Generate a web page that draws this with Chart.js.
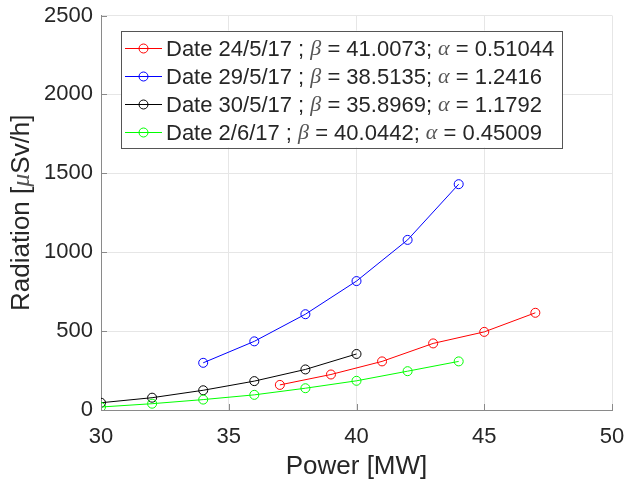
<!DOCTYPE html>
<html>
<head>
<meta charset="utf-8">
<script src="https://cdn.jsdelivr.net/npm/chart.js@4.4.0/dist/chart.umd.min.js"></script>
<style>
  html, body { margin: 0; padding: 0; background: #fff; }
</style>
</head>
<body>
<canvas id="radChart" width="628" height="482"></canvas>
<script>
// values
const powerRed = [37, 39, 41, 43, 45, 47];
const radRed = [159, 225, 308, 422, 495, 616];
const powerBlue = [34, 36, 38, 40, 42, 44];
const radBlue = [299, 435, 607, 817, 1078, 1431];
const powerBlack = [30, 32, 34, 36, 38, 40];
const radBlack = [46, 78, 125, 183, 257, 355];
const powerGreen = [30, 32, 34, 36, 38, 40, 42, 44];
const radGreen = [19, 40, 66, 96, 138, 185, 246, 308];

const seriesLabels = [
  'Date 24/5/17 ; β = 41.0073; α = 0.51044',
  'Date 29/5/17 ; β = 38.5135; α = 1.2416',
  'Date 30/5/17 ; β = 35.8969; α = 1.1792',
  'Date 2/6/17 ; β = 40.0442; α = 0.45009'
];
const seriesColors = ['#ff0000', '#0000ff', '#000000', '#00ff00'];
const xTicks = [30, 35, 40, 45, 50];
const yTicks = [0, 500, 1000, 1500, 2000, 2500];

const textColor = '#262626';
const axisColor = '#8a8a8a';
const gridColor = '#e6e6e6';
const fontFamily = '"Liberation Sans", Arial, sans-serif';
const greekFont = '"Liberation Serif", serif';

function toPoints(xs, ys) {
  return xs.map((x, i) => ({ x: x, y: ys[i] }));
}

function makeSet(i, xs, ys) {
  return {
    label: seriesLabels[i],
    data: toPoints(xs, ys),
    borderColor: seriesColors[i],
    backgroundColor: 'rgba(0,0,0,0)',
    borderWidth: 1,
    pointRadius: 4.5,
    pointBorderWidth: 1,
    pointBackgroundColor: 'rgba(0,0,0,0)',
    pointBorderColor: seriesColors[i],
    tension: 0,
    order: 4 - i
  };
}

// text with the greek letters in italic serif
function richParts(text) {
  return text.split(/([βαμ])/).filter(p => p);
}
function setPartFont(ctx, p, size) {
  if (p === 'β' || p === 'α' || p === 'μ') {
    ctx.font = 'italic ' + size + 'px ' + greekFont;
    ctx.fillStyle = '#555';
  } else {
    ctx.font = size + 'px ' + fontFamily;
    ctx.fillStyle = textColor;
  }
}
function measureRich(ctx, text, size) {
  let w = 0;
  richParts(text).forEach(p => {
    setPartFont(ctx, p, size);
    w += ctx.measureText(p).width;
  });
  return w;
}
function drawRich(ctx, text, x, y, size) {
  let cx = x;
  richParts(text).forEach(p => {
    setPartFont(ctx, p, size);
    ctx.fillText(p, cx, y);
    cx += ctx.measureText(p).width;
  });
}

const innerTicks = {
  id: 'innerTicks',
  afterDraw(chart) {
    const ctx = chart.ctx;
    const area = chart.chartArea;
    const xs = chart.scales.x, ys = chart.scales.y;
    ctx.save();
    ctx.strokeStyle = axisColor;
    ctx.lineWidth = 1;
    ctx.beginPath();
    xTicks.forEach(v => {
      const px = Math.round(xs.getPixelForValue(v)) + 0.5;
      ctx.moveTo(px, area.bottom);
      ctx.lineTo(px, area.bottom - 6);
    });
    yTicks.forEach(v => {
      const py = Math.round(ys.getPixelForValue(v)) + 0.5;
      ctx.moveTo(area.left, py);
      ctx.lineTo(area.left + 6, py);
    });
    ctx.stroke();

    // y axis title, drawn here so the mu can be italic
    const title = 'Radiation [μSv/h]';
    const w = measureRich(ctx, title, 26);
    ctx.translate(22, (area.top + area.bottom) / 2);
    ctx.rotate(-Math.PI / 2);
    ctx.textBaseline = 'middle';
    ctx.textAlign = 'left';
    drawRich(ctx, title, -w / 2, 0, 26);
    ctx.restore();
  }
};

const legendBox = {
  id: 'legendBox',
  afterDraw(chart) {
    const ctx = chart.ctx;
    const area = chart.chartArea;
    const size = 22;
    const rowH = 28;
    const left = area.left + 20;
    const top = area.top + 15;
    ctx.save();
    let maxW = 0;
    chart.data.datasets.forEach(ds => {
      maxW = Math.max(maxW, measureRich(ctx, ds.label, size));
    });
    const boxW = 45 + maxW + 8;
    const boxH = rowH * chart.data.datasets.length + 5;
    ctx.fillStyle = '#fff';
    ctx.fillRect(left, top, boxW, boxH);
    ctx.strokeStyle = '#555';
    ctx.lineWidth = 1;
    ctx.strokeRect(Math.round(left) + 0.5, Math.round(top) + 0.5, Math.round(boxW), Math.round(boxH));
    ctx.textBaseline = 'middle';
    ctx.textAlign = 'left';
    chart.data.datasets.forEach((ds, i) => {
      const cy = top + 18 + i * rowH;
      ctx.strokeStyle = ds.borderColor;
      ctx.beginPath();
      ctx.moveTo(left + 4, cy);
      ctx.lineTo(left + 41, cy);
      ctx.stroke();
      ctx.beginPath();
      ctx.arc(left + 22.5, cy, 4.5, 0, Math.PI * 2);
      ctx.stroke();
      drawRich(ctx, ds.label, left + 45, cy + 1, size);
    });
    ctx.restore();
  }
};

function noPad(s) {
  s.paddingLeft = 0;
  s.paddingRight = 0;
  s.paddingTop = 0;
  s.paddingBottom = 0;
}

const ctx = document.getElementById('radChart').getContext('2d');
const radChart = new Chart(ctx, {
  type: 'line',
  data: {
    datasets: [
      makeSet(0, powerRed, radRed),
      makeSet(1, powerBlue, radBlue),
      makeSet(2, powerBlack, radBlack),
      makeSet(3, powerGreen, radGreen)
    ]
  },
  options: {
    responsive: false,
    animation: false,
    layout: { padding: { left: 0, right: 16, top: 15.5, bottom: 0 } },
    plugins: {
      legend: { display: false },
      tooltip: { enabled: false }
    },
    scales: {
      x: {
        type: 'linear',
        min: 30,
        max: 50,
        afterFit: s => { s.height = 72; noPad(s); },
        afterBuildTicks: s => { s.ticks = xTicks.map(v => ({ value: v })); },
        ticks: {
          color: textColor,
          font: { family: fontFamily, size: 22 },
          padding: 14,
          maxRotation: 0,
          callback: v => String(v)
        },
        grid: { color: gridColor, drawTicks: false, lineWidth: 1 },
        border: { color: axisColor, width: 1 },
        title: {
          display: true,
          text: 'Power [MW]',
          color: textColor,
          font: { family: fontFamily, size: 26 },
          padding: { top: 2, bottom: 0 }
        }
      },
      y: {
        min: 0,
        max: 2500,
        afterFit: s => { s.width = 101; noPad(s); },
        afterBuildTicks: s => { s.ticks = yTicks.map(v => ({ value: v })); },
        ticks: {
          color: textColor,
          font: { family: fontFamily, size: 22 },
          padding: 8,
          callback: v => String(v)
        },
        grid: { color: gridColor, drawTicks: false, lineWidth: 1 },
        border: { color: axisColor, width: 1 }
      }
    }
  },
  plugins: [innerTicks, legendBox]
});
</script>
</body>
</html>
